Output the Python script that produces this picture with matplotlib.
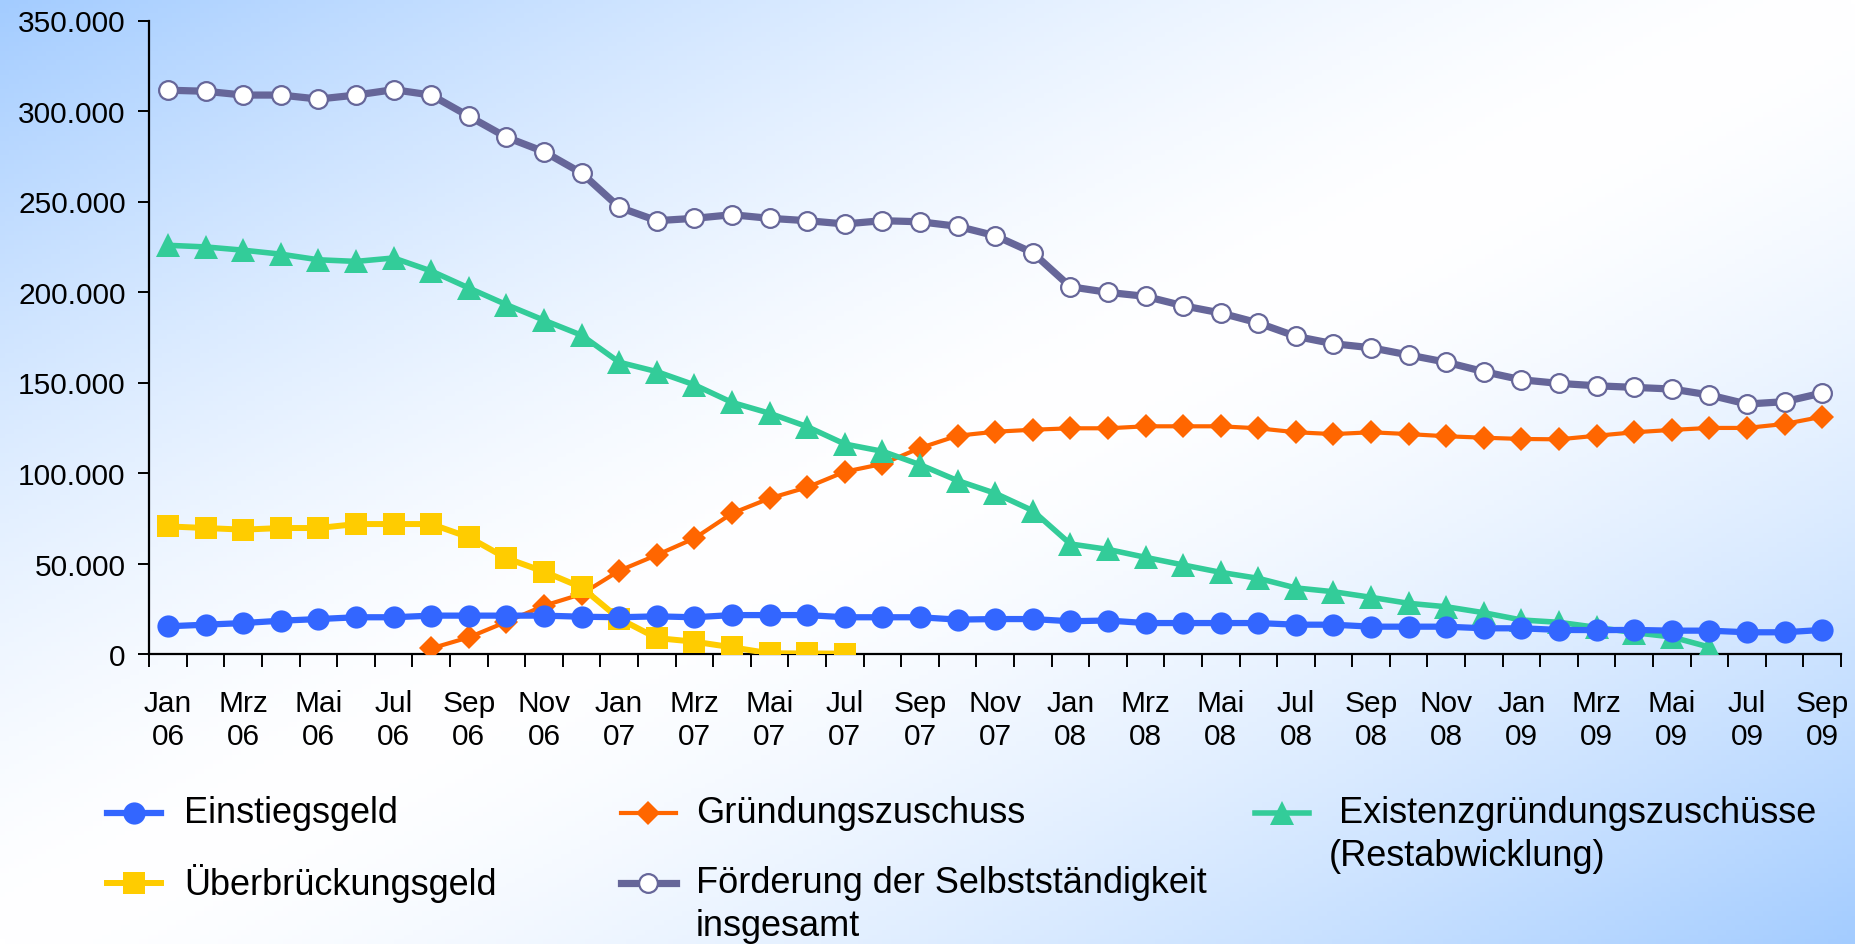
import numpy as np
import matplotlib
matplotlib.use("Agg")
import matplotlib.pyplot as plt
from matplotlib.lines import Line2D

plt.rcParams['font.family'] = ['Liberation Sans', 'DejaVu Sans']

nan = np.nan
# ---------------- data (values in thousands) ----------------
tick_labels = ["Jan\n06", "Mrz\n06", "Mai\n06", "Jul\n06", "Sep\n06", "Nov\n06",
               "Jan\n07", "Mrz\n07", "Mai\n07", "Jul\n07", "Sep\n07", "Nov\n07",
               "Jan\n08", "Mrz\n08", "Mai\n08", "Jul\n08", "Sep\n08", "Nov\n08",
               "Jan\n09", "Mrz\n09", "Mai\n09", "Jul\n09", "Sep\n09"]

einstiegsgeld = [15.3, 16.2, 17.1, 18.4, 19.3, 20.3, 20.3, 21.2, 21.2, 21.2, 21.2, 20.6,
                 20.3, 20.8, 20.3, 21.5, 21.5, 21.5, 20.3, 20.3, 20.3, 19.0, 19.3, 19.3,
                 18.1, 18.5, 17.1, 17.1, 17.1, 17.1, 16.2, 16.2, 15.1, 15.1, 15.1, 14.2,
                 14.2, 13.3, 13.2, 13.3, 12.9, 12.9, 12.0, 12.0, 13.3]

ueberbrueckungsgeld = [70.5, 69.6, 68.7, 69.6, 69.6, 71.8, 71.8, 71.8, 64.5, 52.9, 45.5, 36.8,
                       19.5, 8.8, 6.8, 3.7, 0.4, 0.3, 0.2, nan, nan, nan, nan, nan,
                       nan, nan, nan, nan, nan, nan, nan, nan, nan, nan, nan, nan,
                       nan, nan, nan, nan, nan, nan, nan, nan, nan]

gruendungszuschuss = [nan, nan, nan, nan, nan, nan, nan, 3.1, 9.2, 17.8, 26.7, 33.1,
                      46.0, 54.7, 63.9, 77.7, 86.0, 92.1, 100.7, 105.0, 113.8, 120.6, 122.8, 123.9,
                      124.7, 124.7, 125.8, 125.8, 125.8, 124.7, 122.5, 121.5, 122.5, 121.5, 120.3, 119.5,
                      118.8, 118.6, 120.6, 122.5, 123.8, 124.9, 124.9, 127.1, 131.1]

foerderung_gesamt = [311.5, 310.9, 308.8, 308.8, 306.6, 308.8, 311.8, 308.8, 297.1, 285.5, 277.5, 265.7,
                     246.8, 239.4, 240.7, 242.7, 240.7, 239.4, 237.6, 239.4, 238.8, 236.3, 231.1, 221.7,
                     202.9, 199.8, 197.6, 192.4, 188.4, 182.9, 175.5, 171.4, 169.2, 165.2, 161.2, 156.0,
                     151.5, 149.5, 148.2, 147.3, 146.4, 143.1, 138.1, 139.4, 144.2]

existenzgruendung = [225.8, 224.9, 223.1, 220.9, 217.8, 216.9, 218.8, 211.6, 202.2, 193.0, 184.4, 176.1,
                     161.2, 156.0, 148.7, 139.0, 133.0, 125.6, 116.0, 112.0, 104.6, 95.8, 88.8, 79.2,
                     60.8, 57.8, 53.4, 49.2, 45.1, 41.8, 36.5, 34.4, 31.3, 28.0, 26.1, 22.8,
                     18.8, 17.5, 14.7, 11.8, 9.4, 3.8, nan, nan, nan]

y_ticks = [0, 50000, 100000, 150000, 200000, 250000, 300000, 350000]

# ---------------- figure ----------------
W, H = 1856, 945
fig = plt.figure(figsize=(W / 100, H / 100), dpi=100)

# background gradient
bg = fig.add_axes([0, 0, 1, 1], zorder=-10)
xx, yy = np.meshgrid(np.linspace(0, 1, 400), np.linspace(0, 1, 200))
d = np.abs(xx + yy - 1.0)
d = np.clip(d, 0, 1) ** 1.5
blue = np.array([0.64, 0.80, 1.0])
white = np.array([1.0, 1.0, 1.0])
img = white[None, None, :] * (1 - d[..., None]) + blue[None, None, :] * d[..., None]
bg.imshow(img, aspect='auto', extent=[0, 1, 0, 1], origin='upper')
bg.set_axis_off()

ax = fig.add_axes([149.3 / W, 1 - 655 / H, (1841 - 149.3) / W, (655 - 21.5) / H])
ax.patch.set_alpha(0)

x = np.arange(45)
k = 1000.0
s_foe = ax.plot(x, np.array(foerderung_gesamt) * k, color='#666699', lw=5.2, marker='o',
                ms=13.5, mfc='white', mec='#666699', mew=1.6, zorder=2)[0]
s_gru = ax.plot(x, np.array(gruendungszuschuss) * k, color='#FF6600', lw=3.0, marker='D',
                ms=11.8, mfc='#FF6600', mec='#FF6600', mew=0, zorder=3)[0]
s_exi = ax.plot(x, np.array(existenzgruendung) * k, color='#33CC99', lw=4.0, marker='^',
                ms=17, mfc='#33CC99', mec='#33CC99', mew=0, zorder=4)[0]
s_ueb = ax.plot(x, np.array(ueberbrueckungsgeld) * k, color='#FFCC00', lw=4.3, marker='s',
                ms=16.5, mfc='#FFCC00', mec='#FFCC00', mew=0, zorder=5)[0]
s_ein = ax.plot(x, np.array(einstiegsgeld) * k, color='#3366FF', lw=4.5, marker='o',
                ms=16, mfc='#3366FF', mec='#3366FF', mew=0, zorder=6)[0]

ax.set_xlim(-0.5, 44.5)
ax.set_ylim(0, 350000)
ax.spines['top'].set_visible(False)
ax.spines['right'].set_visible(False)
for sp in ('left', 'bottom'):
    ax.spines[sp].set_linewidth(1.6)
    ax.spines[sp].set_color('black')

ax.set_yticks(y_ticks)
ax.set_yticklabels([f"{v:,}".replace(",", ".") for v in y_ticks])
ax.tick_params(axis='y', direction='out', length=8, width=1.4, labelsize=21.5, pad=9,
               colors='black')

ax.set_xticks(np.arange(0, 45, 2))
ax.set_xticklabels(tick_labels, linespacing=1.25)
ax.set_xticks(np.arange(-0.5, 45.0, 1), minor=True)
ax.tick_params(axis='x', which='major', length=0, labelsize=21.5, pad=25, colors='black')
ax.tick_params(axis='x', which='minor', direction='out', length=9, width=1.4, colors='black')

# ---------------- legend (manual, figure coords) ----------------
def fy(py):
    return 1 - py / H

def fx(px):
    return px / W

fs = 26
entries = [
    (s_ein, 107, 161, 184, 814, ["Einstiegsgeld"]),
    (s_ueb, 107, 161, 184, 884, ["Überbrückungsgeld"]),
    (s_gru, 621, 676, 696, 814, ["Gründungszuschuss"]),
    (s_foe, 621, 676, 696, 884, ["Förderung der Selbstständigkeit", "insgesamt"]),
    (s_exi, 1255, 1309, 1329, 814, [" Existenzgründungszuschüsse", "(Restabwicklung)"]),
]
for h, x0, x1, tx, py, lines in entries:
    ln = Line2D([fx(x0), fx(x1)], [fy(py), fy(py)], transform=fig.transFigure,
                color=h.get_color(), lw=h.get_linewidth())
    fig.add_artist(ln)
    mk = Line2D([fx((x0 + x1) / 2)], [fy(py)], transform=fig.transFigure,
                linestyle='none', marker=h.get_marker(), ms=h.get_markersize(),
                mfc=h.get_markerfacecolor(), mec=h.get_markeredgecolor(),
                mew=h.get_markeredgewidth())
    fig.add_artist(mk)
    for j, t in enumerate(lines):
        fig.text(fx(tx), fy(py + j * 43), t, fontsize=fs, va='center', ha='left', color='black')

fig.savefig("out.png", dpi=100)
